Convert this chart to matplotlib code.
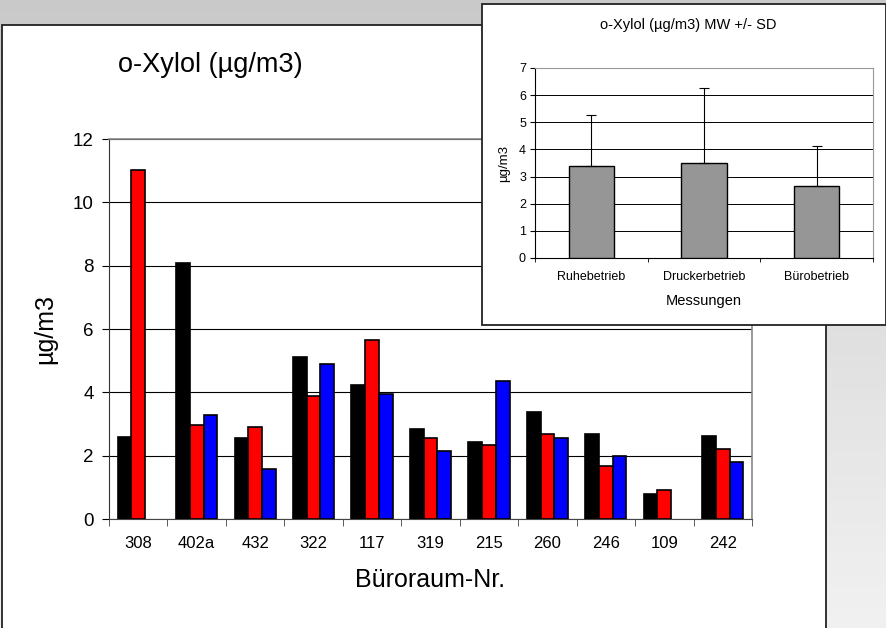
import numpy as np
import matplotlib
matplotlib.use('Agg')
import matplotlib.pyplot as plt
from matplotlib.patches import Rectangle

plt.rcParams['font.family'] = ['Liberation Sans', 'DejaVu Sans']

# main chart data
rooms = ['308', '402a', '432', '322', '117', '319', '215', '260', '246', '109', '242']
ruhe = [2.58, 8.08, 2.57, 5.12, 4.23, 2.85, 2.43, 3.39, 2.69, 0.78, 2.63]
drucker = [11.03, 2.97, 2.91, 3.87, 5.66, 2.56, 2.34, 2.69, 1.66, 0.91, 2.21]
buero = [np.nan, 3.27, 1.59, 4.90, 3.94, 2.15, 4.35, 2.57, 2.00, np.nan, 1.80]

# inset data (mean +/- SD)
phases = ['Ruhebetrieb', 'Druckerbetrieb', 'Bürobetrieb']
mw = [3.39, 3.51, 2.65]
sd = [1.88, 2.76, 1.48]

W, H = 887, 628
fig = plt.figure(figsize=(W / 100, H / 100), dpi=100)

# gray background with soft gradient
bg = fig.add_axes([0, 0, 1, 1], zorder=-3)
grad = np.linspace(0, 1, 256).reshape(-1, 1)
bg.imshow(grad, aspect='auto', cmap='Greys_r', vmin=-3.4, vmax=1.6,
          extent=[0, 1, 0, 1], origin='upper')
bg.set_axis_off()

def px_rect(x0, y0, x1, y1, z):
    r = Rectangle((x0 / W, 1 - y1 / H), (x1 - x0) / W, (y1 - y0) / H,
                  transform=fig.transFigure, facecolor='white',
                  edgecolor='#222222', lw=1.3, zorder=z)
    fig.add_artist(r)

px_rect(2, 25, 826, 640, -1)

# main axes
ax = fig.add_axes([109 / W, 1 - 519 / H, (752 - 109) / W, (519 - 139) / H], zorder=0)
x = np.arange(len(rooms))
bw = 0.235
for off, vals, col in [(-bw, ruhe, 'black'), (0, drucker, '#ff0000'), (bw, buero, '#0000ff')]:
    ax.bar(x + off, vals, bw, color=col, edgecolor='black', lw=1.2, zorder=3)

ax.set_xlim(-0.5, len(rooms) - 0.5)
ax.set_ylim(0, 12)
ax.set_yticks(range(0, 13, 2))
ax.yaxis.grid(True, color='black', lw=0.8)
ax.set_axisbelow(True)
ax.set_xticks(x)
ax.set_xticklabels(rooms, fontsize=12)
ax.set_xticks(np.arange(-0.5, len(rooms)), minor=True)
ax.tick_params(axis='x', which='major', length=0, pad=12.5)
ax.tick_params(axis='x', which='minor', length=5, direction='out', color='#404040')
ax.tick_params(axis='y', labelsize=13.5, length=5, direction='out', pad=6)
for s in ['top', 'right']:
    ax.spines[s].set_color('#888888')
    ax.spines[s].set_linewidth(1.2)
ax.spines['left'].set_color('#333333')
ax.spines['bottom'].set_color('#444444')
ax.set_ylabel('µg/m3', fontsize=18)
ax.yaxis.set_label_coords(-0.081, 0.5)
ax.set_xlabel('Büroraum-Nr.', fontsize=18)
ax.xaxis.set_label_coords(0.5, -0.13)
fig.text(118 / W, 1 - 65 / H, 'o-Xylol (µg/m3)', fontsize=19.5, ha='left', va='center')

# inset panel
px_rect(482, 4, 886, 325, 1)
ax2 = fig.add_axes([535 / W, 1 - 258 / H, (873 - 535) / W, (258 - 68) / H], zorder=2)
x2 = np.arange(len(phases))
ax2.bar(x2, mw, 0.4, color='#969696', edgecolor='black', lw=1.0, zorder=3,
        yerr=[np.zeros(len(sd)), sd], capsize=3.5,
        error_kw=dict(ecolor='black', elinewidth=0.8, capthick=0.8))
ax2.set_xlim(-0.5, len(phases) - 0.5)
ax2.set_ylim(0, 7)
ax2.set_yticks(range(0, 8))
ax2.yaxis.grid(True, color='black', lw=0.7)
ax2.set_axisbelow(True)
ax2.set_xticks(x2)
ax2.set_xticklabels(phases, fontsize=9)
ax2.set_xticks(np.arange(-0.5, len(phases)), minor=True)
ax2.tick_params(axis='x', which='major', length=0, pad=9)
ax2.tick_params(axis='x', which='minor', length=3, direction='out')
ax2.tick_params(axis='y', labelsize=9, length=3.5, direction='out', pad=3)
for s in ['top', 'right']:
    ax2.spines[s].set_color('#999999')
ax2.set_ylabel('µg/m3', fontsize=9.5)
ax2.yaxis.set_label_coords(-0.074, 0.5)
ax2.set_xlabel('Messungen', fontsize=10.5)
ax2.xaxis.set_label_coords(0.5, -0.19)
fig.text(688 / W, 1 - 25 / H, 'o-Xylol (µg/m3) MW +/- SD', fontsize=10.5,
         ha='center', va='center', zorder=3)

fig.savefig('out.png', dpi=100)
